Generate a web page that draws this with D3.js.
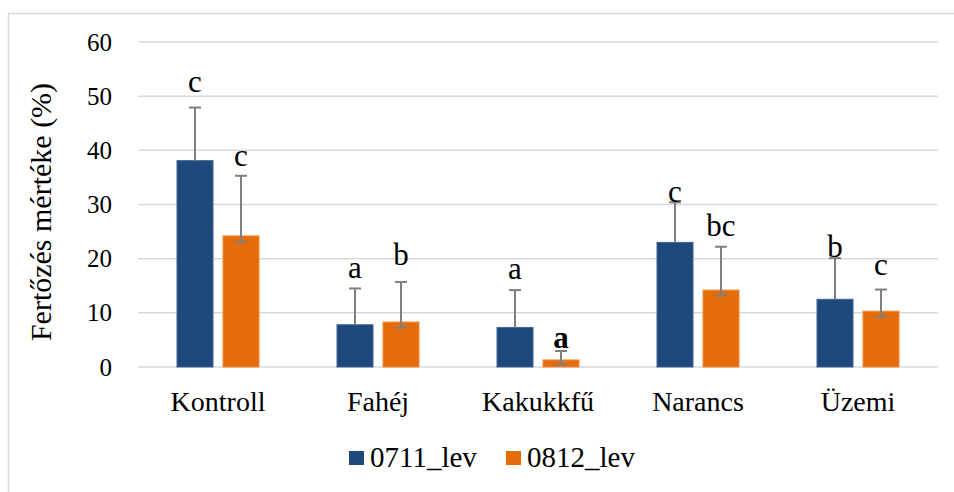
<!DOCTYPE html>
<html>
<head>
<meta charset="utf-8">
<script src="https://cdn.jsdelivr.net/npm/d3@7"></script>
</head>
<body style="margin:0; font-family: serif;">
<script>
// data
const categories = ["Kontroll", "Fahéj", "Kakukkfű", "Narancs", "Üzemi"];
const seriesNames = ["0711_lev", "0812_lev"];
const values0711 = [38.1, 7.8, 7.3, 23.0, 12.5];
const values0812 = [24.2, 8.3, 1.3, 14.2, 10.3];
const errHigh0711 = [47.9, 14.5, 14.2, 30.4, 20.1];
const errHigh0812 = [35.3, 15.7, 2.95, 22.2, 14.3];
const errLow0812 = [23.1, 7.3, 0.5, 13.2, 9.3];
const letters0711 = ["c", "a", "a", "c", "b"];
const letters0812 = ["c", "b", "a", "bc", "c"];
const letterAt0711 = [50.8, 16.4, 16.2, 30.5, 20.3];
const letterAt0812 = [37.1, 18.8, 3.5, 24.1, 17.0];
const yTicks = [0, 10, 20, 30, 40, 50, 60];

const colors = ["#1f497d", "#e46c0a"];
const W = 954, H = 492;

const svg = d3.select("body").append("svg")
    .attr("width", W)
    .attr("height", H)
    .style("display", "block")
    .style("font-family", "serif");

// serif face for every text
function serif(sel, size) {
    return sel
        .style("font-family", "serif")
        .attr("font-size", size)
        .attr("fill", "#000");
}

// chart frame
svg.append("rect")
    .attr("x", 8.5).attr("y", 13.5)
    .attr("width", 1000).attr("height", 600)
    .attr("fill", "none")
    .attr("stroke", "#d9d9d9")
    .attr("stroke-width", 1.5);

const x = d3.scaleBand()
    .domain(categories)
    .range([138, 938]);

const xSub = d3.scaleBand()
    .domain(seriesNames)
    .range([39, 121])
    .paddingInner(10 / 46);

const y = d3.scaleLinear()
    .domain([0, 60])
    .range([367, 42]);

// gridlines
svg.append("g")
    .selectAll("line")
    .data(yTicks)
    .enter().append("line")
    .attr("x1", 138).attr("x2", 938)
    .attr("y1", d => y(d)).attr("y2", d => y(d))
    .attr("stroke", "#d9d9d9")
    .attr("stroke-width", 1.5);

// y axis labels
const yAxis = svg.append("g")
    .attr("transform", "translate(138,0)")
    .call(d3.axisLeft(y).tickValues(yTicks).tickSize(0).tickPadding(26));
yAxis.select(".domain").remove();
yAxis.attr("font-family", "serif");
serif(yAxis.selectAll("text"), 25);

// x axis labels
const xAxis = svg.append("g")
    .attr("transform", `translate(0,${y(0)})`)
    .call(d3.axisBottom(x).tickSize(0).tickPadding(24));
xAxis.select(".domain").remove();
xAxis.attr("font-family", "serif");
serif(xAxis.selectAll("text"), 28);

const rows = categories.map((c, i) => ({
    cat: c,
    items: [
        { s: seriesNames[0], v: values0711[i], hi: errHigh0711[i], lo: null, lab: letters0711[i], labAt: letterAt0711[i] },
        { s: seriesNames[1], v: values0812[i], hi: errHigh0812[i], lo: errLow0812[i], lab: letters0812[i], labAt: letterAt0812[i] }
    ]
}));

const groups = svg.append("g")
    .selectAll("g")
    .data(rows)
    .enter().append("g")
    .attr("transform", d => `translate(${x(d.cat)},0)`);

const cx = d => xSub(d.s) + xSub.bandwidth() / 2;

// bars
groups.selectAll(".bar")
    .data(d => d.items)
    .enter().append("rect")
    .attr("class", "bar")
    .attr("x", d => xSub(d.s))
    .attr("y", d => y(d.v))
    .attr("width", xSub.bandwidth())
    .attr("height", d => y(0) - y(d.v))
    .attr("fill", (d, i) => colors[i])
    .attr("stroke", (d, i) => i === 0 ? "#3f6591" : "#ee8a3c")
    .attr("stroke-width", 1);

// error bars
const err = groups.selectAll(".err")
    .data(d => d.items)
    .enter().append("g")
    .attr("class", "err")
    .attr("stroke", "#7f7f7f")
    .attr("stroke-width", 2);

err.append("line")
    .attr("x1", cx).attr("x2", cx)
    .attr("y1", d => y(d.hi))
    .attr("y2", d => y(d.lo === null ? d.v : d.lo));

err.append("line")
    .attr("x1", d => cx(d) - 6).attr("x2", d => cx(d) + 6)
    .attr("y1", d => y(d.hi)).attr("y2", d => y(d.hi));

err.filter(d => d.lo !== null).append("line")
    .attr("x1", d => cx(d) - 6).attr("x2", d => cx(d) + 6)
    .attr("y1", d => y(d.lo)).attr("y2", d => y(d.lo));

// significance letters
const letters = groups.selectAll(".letter")
    .data(d => d.items.map(it => Object.assign({ cat: d.cat }, it)))
    .enter().append("text")
    .attr("class", "letter")
    .attr("x", cx)
    .attr("y", d => y(d.labAt))
    .attr("text-anchor", "middle")
    .attr("font-weight", d => d.cat === "Kakukkfű" && d.s === "0812_lev" ? "bold" : "normal")
    .text(d => d.lab);
serif(letters, 31);

// y axis title
serif(svg.append("text")
    .attr("transform", "translate(51,212) rotate(-90)")
    .attr("text-anchor", "middle")
    .text("Fertőzés mértéke (%)"), 30);

// legend
const legend = svg.append("g")
    .selectAll("g")
    .data(seriesNames)
    .enter().append("g")
    .attr("transform", (d, i) => `translate(${349 + i * 157},451)`);

legend.append("rect")
    .attr("width", 15).attr("height", 14)
    .attr("fill", (d, i) => colors[i]);

serif(legend.append("text")
    .attr("x", 21).attr("y", 16)
    .text(d => d), 29);
</script>
</body>
</html>
